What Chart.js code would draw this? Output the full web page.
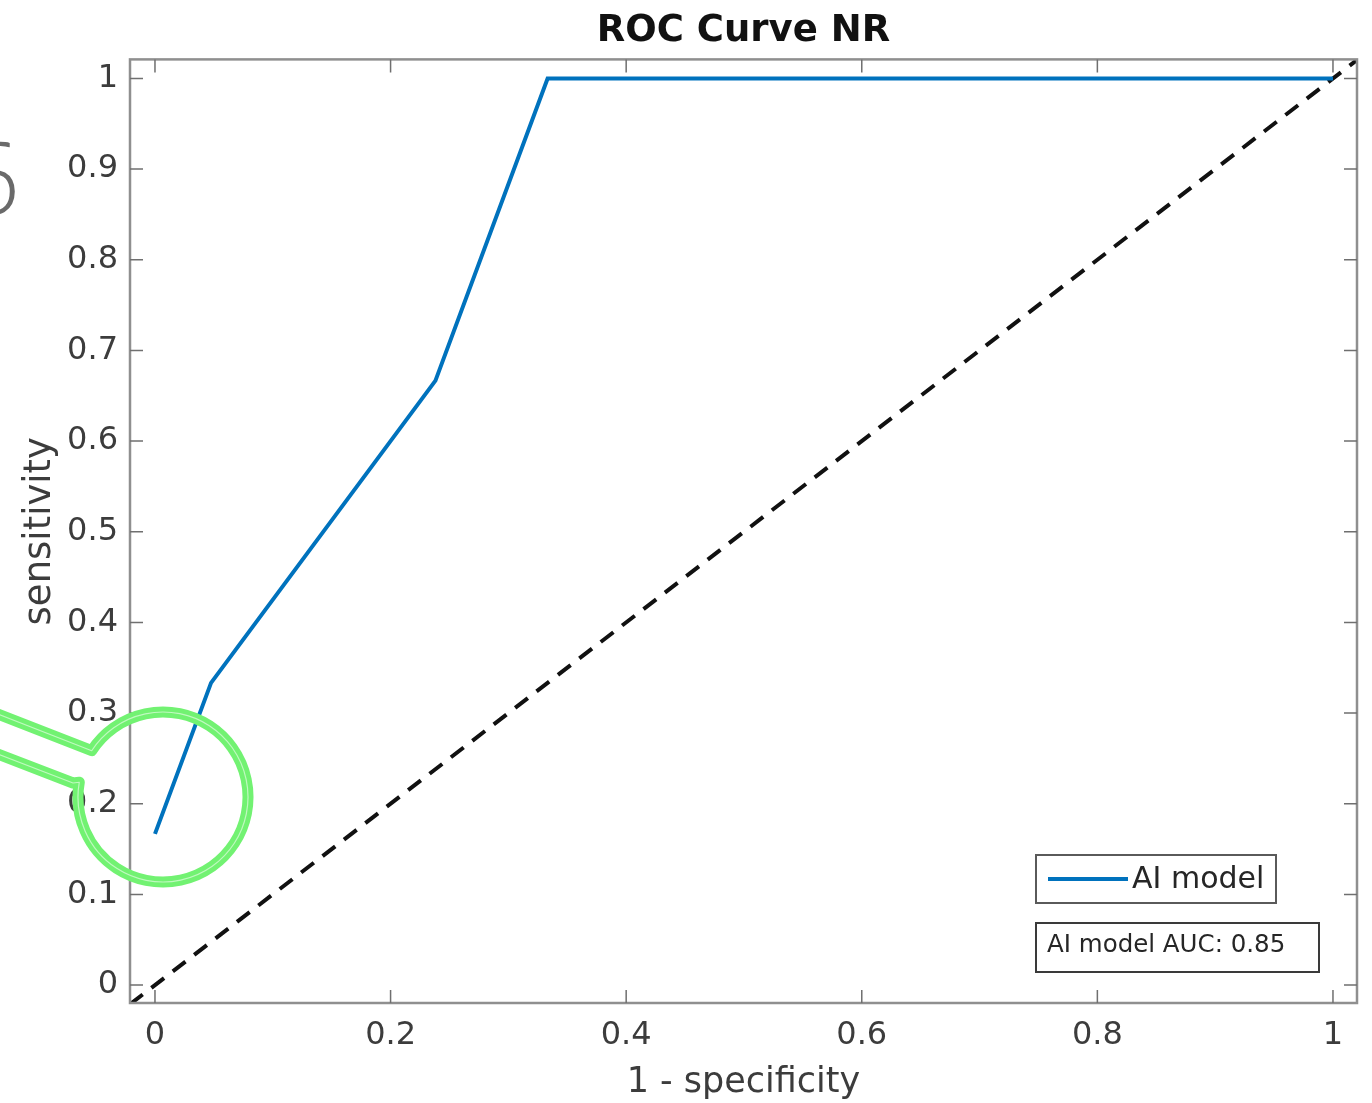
<!DOCTYPE html>
<html>
<head>
<meta charset="utf-8">
<title>ROC Curve NR</title>
<script src="https://cdn.jsdelivr.net/npm/chart.js@4"></script>
<style>
    html, body { margin: 0; padding: 0; background: #fff; }
    #wrap { width: 1372px; height: 1103px; position: relative; }
</style>
</head>
<body>
<div id="wrap"><canvas id="rocChart" width="1372" height="1103"></canvas></div>
<script>
// ROC points
const fprValues = [0, 0.0476, 0.2381, 0.3333, 1];
const tprValues = [0.1667, 0.3333, 0.6667, 1, 1];

// chance diagonal (clipped to the plot box)
const chanceX = [-0.0212, 1.03];
const chanceY = [-0.0212, 1.03];

const xTickValues = [0, 0.2, 0.4, 0.6, 0.8, 1];
const xTickLabels = ['0', '0.2', '0.4', '0.6', '0.8', '1'];
const yTickValues = [0, 0.1, 0.2, 0.3, 0.4, 0.5, 0.6, 0.7, 0.8, 0.9, 1];
const yTickLabels = ['0', '0.1', '0.2', '0.3', '0.4', '0.5', '0.6', '0.7', '0.8', '0.9', '1'];

const xRange = [-0.0212, 1.0204];
const yRange = [-0.0198, 1.021];

const aucLabel = 'AI model AUC: 0.85';
const FONT = "'DejaVu Sans', sans-serif";

/**
 * MATLAB style box: frame + inward ticks on all four sides
 */
const boxPlugin = {
    id: 'matlabBox',
    afterDraw(chart) {
        const { ctx, chartArea: a, scales } = chart;
        const tick = 13;
        ctx.save();
        ctx.strokeStyle = '#8f8f8f';
        ctx.lineWidth = 2.5;
        ctx.strokeRect(a.left, a.top, a.right - a.left, a.bottom - a.top);

        ctx.strokeStyle = '#6f6f6f';
        ctx.lineWidth = 1.5;
        ctx.beginPath();
        xTickValues.forEach(v => {
            const px = scales.x.getPixelForValue(v);
            ctx.moveTo(px, a.bottom); ctx.lineTo(px, a.bottom - tick);
            ctx.moveTo(px, a.top); ctx.lineTo(px, a.top + tick);
        });
        yTickValues.forEach(v => {
            const py = scales.y.getPixelForValue(v);
            ctx.moveTo(a.left, py); ctx.lineTo(a.left + tick, py);
            ctx.moveTo(a.right, py); ctx.lineTo(a.right - tick, py);
        });
        ctx.stroke();
        ctx.restore();
    }
};

/**
 * Legend box + AUC text box in the lower right of the plot
 */
const legendBoxPlugin = {
    id: 'legendBoxes',
    afterDraw(chart) {
        const { ctx } = chart;
        const ds = chart.data.datasets[0];
        ctx.save();

        // legend
        ctx.fillStyle = '#fff';
        ctx.fillRect(1036, 855, 240, 48);
        ctx.strokeStyle = '#5a5a5a';
        ctx.lineWidth = 2;
        ctx.strokeRect(1036, 855, 240, 48);
        ctx.strokeStyle = ds.borderColor;
        ctx.lineWidth = 4;
        ctx.beginPath();
        ctx.moveTo(1048, 879); ctx.lineTo(1128, 879);
        ctx.stroke();
        ctx.fillStyle = '#262626';
        ctx.font = `30px ${FONT}`;
        ctx.textBaseline = 'middle';
        ctx.fillText(ds.label, 1132, 880);

        // AUC annotation
        ctx.fillStyle = '#fff';
        ctx.fillRect(1036, 923, 283, 49);
        ctx.strokeStyle = '#3a3a3a';
        ctx.lineWidth = 2;
        ctx.strokeRect(1036, 923, 283, 49);
        ctx.fillStyle = '#262626';
        ctx.font = `24.5px ${FONT}`;
        ctx.fillText(aucLabel, 1047, 946);
        ctx.restore();
    }
};

/**
 * Screenshot leftovers: green marker circle with handle, cut-off "6"
 */
const markupPlugin = {
    id: 'markup',
    afterDraw(chart) {
        const { ctx } = chart;
        ctx.save();
        ctx.fillStyle = '#6a6a6a';
        ctx.font = `300 100px 'Open Sans', ${FONT}`;
        ctx.textAlign = 'right';
        ctx.textBaseline = 'alphabetic';
        ctx.fillText('6', 20, 214);

        const cx = 163, cy = 797, r = 85;
        const a1 = 213 * Math.PI / 180;
        const a2 = (190 + 360) * Math.PI / 180;
        const outline = () => {
            ctx.beginPath();
            ctx.moveTo(-5, 713);
            ctx.lineTo(cx + r * Math.cos(a1), cy + r * Math.sin(a1));
            ctx.arc(cx, cy, r, a1, a2);
            ctx.lineTo(73, 783);
            ctx.lineTo(-5, 753);
            ctx.stroke();
        };
        ctx.lineJoin = 'round';
        ctx.strokeStyle = '#72f272';
        ctx.lineWidth = 11;
        outline();
        // thin light streak to mimic the hand drawn double stroke
        ctx.strokeStyle = 'rgba(255,255,255,0.55)';
        ctx.lineWidth = 1.2;
        outline();
        ctx.restore();
    }
};

const ctx = document.getElementById('rocChart');

new Chart(ctx, {
    type: 'scatter',
    data: {
        datasets: [
            {
                label: 'AI model',
                data: fprValues.map((x, i) => ({ x, y: tprValues[i] })),
                showLine: true,
                borderColor: '#0072BD',
                borderWidth: 4,
                pointRadius: 0,
                fill: false
            },
            {
                label: 'chance',
                data: chanceX.map((x, i) => ({ x, y: chanceY[i] })),
                showLine: true,
                borderColor: '#111',
                borderWidth: 4,
                borderDash: [16, 11],
                pointRadius: 0,
                fill: false
            }
        ]
    },
    options: {
        responsive: false,
        animation: false,
        layout: { padding: { top: 0, right: 15, bottom: 0, left: 0 } },
        plugins: {
            legend: { display: false },
            tooltip: { enabled: false },
            title: {
                display: true,
                text: 'ROC Curve NR',
                fullSize: false,
                color: '#111',
                font: { family: FONT, size: 37, weight: 'bold' },
                padding: { top: 9, bottom: 6 }
            }
        },
        scales: {
            x: {
                type: 'linear',
                min: xRange[0],
                max: xRange[1],
                afterBuildTicks: s => { s.ticks = xTickValues.map(v => ({ value: v })); },
                afterFit: s => { s.height = 100; },
                grid: { display: false, drawTicks: false },
                border: { display: false },
                ticks: {
                    color: '#3c3c3c',
                    font: { family: FONT, size: 32 },
                    padding: 13,
                    maxRotation: 0,
                    autoSkip: false,
                    callback: (v, i) => xTickLabels[i]
                },
                title: {
                    display: true,
                    text: '1 - specificity',
                    color: '#3c3c3c',
                    font: { family: FONT, size: 35 },
                    padding: { top: 0, bottom: -1 }
                }
            },
            y: {
                type: 'linear',
                min: yRange[0],
                max: yRange[1],
                afterBuildTicks: s => { s.ticks = yTickValues.map(v => ({ value: v })); },
                afterFit: s => { s.width = 130; },
                grid: { display: false, drawTicks: false },
                border: { display: false },
                ticks: {
                    color: '#3c3c3c',
                    font: { family: FONT, size: 32 },
                    padding: 12,
                    autoSkip: false,
                    callback: (v, i) => yTickLabels[i]
                },
                title: {
                    display: true,
                    text: 'sensitivity',
                    color: '#3c3c3c',
                    font: { family: FONT, size: 37 },
                    padding: { top: 18, bottom: 0 }
                }
            }
        }
    },
    plugins: [boxPlugin, legendBoxPlugin, markupPlugin]
});
</script>
</body>
</html>
